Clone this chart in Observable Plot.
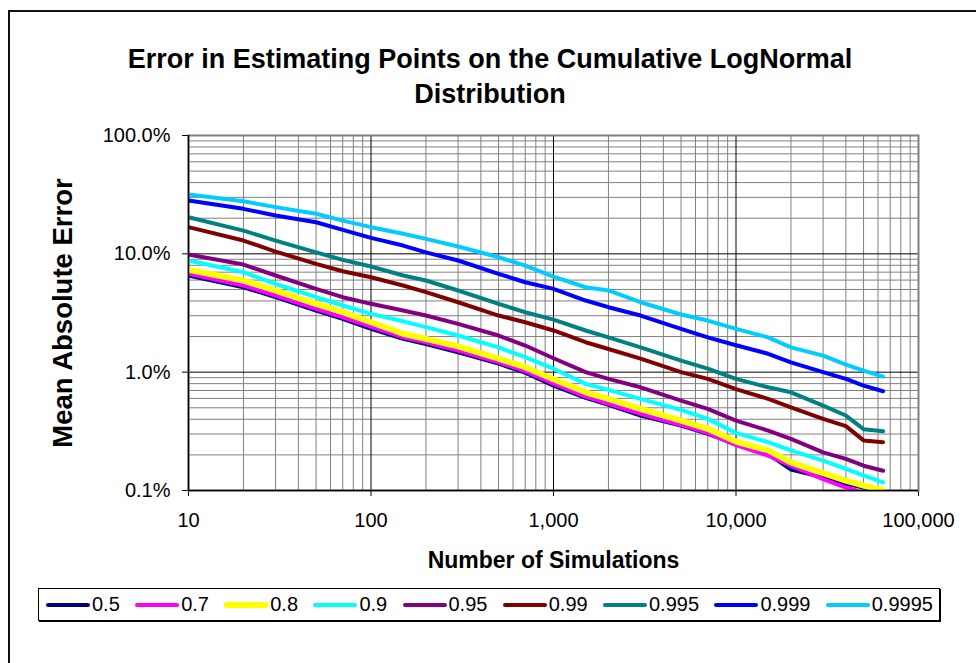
<!DOCTYPE html>
<html><head><meta charset="utf-8">
<script src="https://cdn.jsdelivr.net/npm/d3@7"></script>
<script src="https://cdn.jsdelivr.net/npm/@observablehq/plot@0.6"></script>
<style>
body{margin:0;background:#fff;font-family:"Liberation Sans",Arial,sans-serif;}
#wrap{position:relative;width:976px;height:663px;overflow:hidden;background:#fff;}
#frame{position:absolute;left:8px;top:10px;width:1000px;height:700px;border-left:2px solid #111;border-top:2px solid #111;}
#title{position:absolute;left:0;width:980px;top:42px;text-align:center;font-weight:bold;font-size:27px;line-height:35px;color:#000;}
#chart{position:absolute;left:0;top:100px;}
#legend{position:absolute;left:38px;top:588px;width:902px;height:33px;border:1px solid #000;box-shadow:1px 1px 0 #000;display:flex;align-items:center;justify-content:space-between;padding:0 6px 0 7px;box-sizing:border-box;font-size:20px;background:#fff;}
.item{display:flex;align-items:center;}
.sw{width:44px;margin-right:2px;border-radius:2px;}
</style></head>
<body><div id="wrap"><div id="frame"></div>
<div id="title">Error in Estimating Points on the Cumulative LogNormal<br>Distribution</div>
<div id="chart"></div><div id="legend"></div></div>
<script>
// Data (mean absolute error, in percent)
const nSims = [10,20,30,50,70,100,150,200,300,500,700,1000,1500,2000,3000,5000,7000,10000,15000,20000,30000,40000,50000,64000];
const seriesNames = ["0.5","0.7","0.8","0.9","0.95","0.99","0.995","0.999","0.9995"];
const q05    = [6.56,5.22,4.30,3.32,2.82,2.32,1.91,1.73,1.47,1.18,0.99,0.77,0.606,0.529,0.430,0.354,0.301,0.248,0.204,0.150,0.129,0.114,0.106,0.101];
const q07    = [6.78,5.40,4.44,3.43,2.91,2.43,1.97,1.79,1.52,1.21,1.02,0.80,0.622,0.540,0.444,0.358,0.305,0.242,0.197,0.162,0.125,0.106,0.096,0.092];
const q08    = [7.32,5.95,4.90,3.78,3.21,2.64,2.11,1.91,1.65,1.30,1.10,0.87,0.676,0.595,0.490,0.390,0.332,0.259,0.218,0.173,0.140,0.121,0.110,0.100];
const q09    = [8.78,6.99,5.58,4.30,3.66,3.11,2.69,2.40,2.04,1.62,1.34,1.07,0.796,0.709,0.595,0.480,0.403,0.307,0.256,0.218,0.179,0.152,0.134,0.117];
const q095   = [9.87,8.12,6.56,5.06,4.30,3.78,3.32,3.01,2.56,2.04,1.68,1.31,1.00,0.877,0.745,0.575,0.490,0.390,0.321,0.273,0.210,0.185,0.162,0.147];
const q099   = [16.8,12.95,10.45,8.23,7.13,6.34,5.40,4.74,3.90,3.01,2.64,2.25,1.79,1.57,1.30,1.00,0.877,0.718,0.595,0.505,0.403,0.350,0.265,0.256];
const q0995  = [20.4,15.7,12.95,10.3,8.90,7.81,6.56,5.95,4.90,3.78,3.21,2.78,2.25,1.97,1.62,1.25,1.07,0.877,0.745,0.676,0.522,0.430,0.330,0.317];
const q0999  = [28.2,24.0,21.1,18.5,15.95,13.65,11.75,10.3,8.78,6.78,5.75,5.06,4.03,3.54,3.01,2.32,1.97,1.69,1.43,1.21,1.00,0.877,0.770,0.690];
const q09995 = [31.7,27.8,24.8,21.8,19.1,16.8,14.76,13.39,11.52,9.36,7.96,6.43,5.22,4.90,3.90,3.07,2.73,2.32,1.97,1.62,1.38,1.16,1.03,0.918];
const seriesValues = [q05,q07,q08,q09,q095,q099,q0995,q0999,q09995];
const seriesColors = ["#000080","#FF00FF","#FFFF00","#00FFFF","#800080","#800000","#008080","#0000FF","#00CCFF"];
const xTicks = [10,100,1000,10000,100000];
const yTicks = [0.001,0.01,0.1,1];

const rows = seriesNames.flatMap((name,s) => nSims.map((n,i) => ({n, v: seriesValues[s][i]/100, name})));
const minor = ticks => ticks.slice(0,-1).flatMap(t => [2,3,4,5,6,7,8,9].map(k => t*k));

const lineMarks = seriesNames.map((name,s) => Plot.line(rows.filter(r => r.name===name), {
  x:"n", y:"v", stroke: seriesColors[s], strokeWidth: name==="0.8" ? 6 : 4,
  strokeLinejoin:"round", strokeLinecap:"round", clip:true
}));

const chart = Plot.plot({
  width: 976, height: 475,
  marginLeft: 188, marginRight: 58, marginTop: 35, marginBottom: 85,
  style: {fontSize:"20px", fontFamily:"'Liberation Sans', Arial, sans-serif", color:"#000", background:"transparent", overflow:"visible"},
  x: {type:"log", domain:[10,100000], ticks: xTicks, tickFormat: d3.format(","), tickSize: 6, tickPadding: 16, label: null},
  y: {type:"log", domain:[0.001,1], ticks: yTicks, tickFormat: d3.format(".1%"), tickSize: 6, tickPadding: 12, label: null},
  marks: [
    Plot.ruleX(minor(xTicks), {stroke:"#808080", strokeWidth:1}),
    Plot.ruleY(minor(yTicks), {stroke:"#808080", strokeWidth:1}),
    Plot.ruleX(xTicks.slice(1,-1), {stroke:"#000", strokeWidth:1}),
    Plot.ruleY(yTicks.slice(1,-1), {stroke:"#000", strokeWidth:1}),
    Plot.frame({stroke:"#808080", strokeWidth:2}),
    ...lineMarks,
    Plot.ruleX([10], {stroke:"#000", strokeWidth:1.5}),
    Plot.ruleY([0.001], {stroke:"#000", strokeWidth:1.5}),
    Plot.text(["Mean Absolute Error"], {frameAnchor:"left", textAnchor:"middle", dx:-125, rotate:-90, fontWeight:"bold", fontSize:27.5}),
    Plot.text(["Number of Simulations"], {frameAnchor:"bottom", dy:77, fontWeight:"bold", fontSize:23})
  ]
});
document.getElementById("chart").appendChild(chart);

const legend = document.getElementById("legend");
seriesNames.forEach((name,s) => {
  const it = document.createElement("div"); it.className = "item";
  const sw = document.createElement("div"); sw.className = "sw";
  sw.style.height = (name==="0.8" ? 6 : 4) + "px"; sw.style.background = seriesColors[s];
  const lb = document.createElement("span"); lb.textContent = name;
  it.appendChild(sw); it.appendChild(lb); legend.appendChild(it);
});
</script></body></html>
